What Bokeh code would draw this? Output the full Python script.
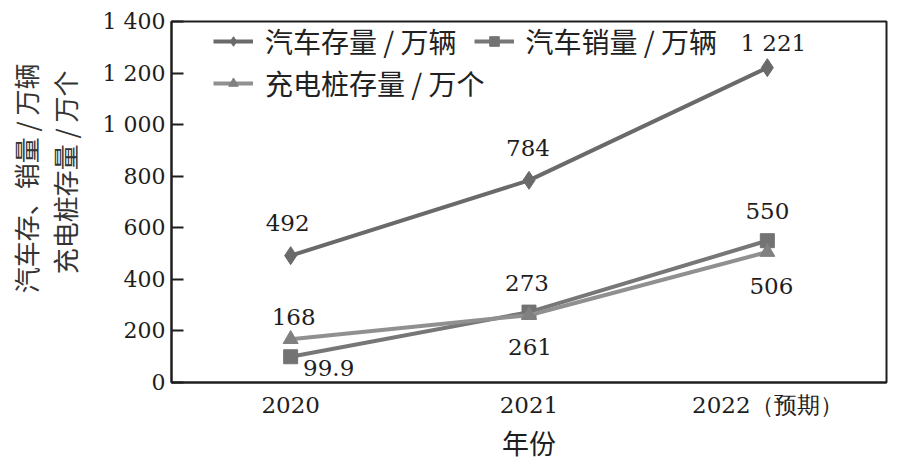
from bokeh.plotting import figure
from bokeh.models import (ColumnDataSource, Range1d, FixedTicker, Legend, LegendItem, Title)
from bokeh.core.properties import value
from bokeh.embed import file_html
from bokeh.resources import INLINE

# ---- data ----
years = ["2020", "2021", "2022（预期）"]
car_stock = [492, 784, 1221]        # 汽车存量 / 万辆
car_sales = [99.9, 273, 550]        # 汽车销量 / 万辆
pile_stock = [168, 261, 506]        # 充电桩存量 / 万个
y_ticks = [0, 200, 400, 600, 800, 1000, 1200, 1400]
y_title = ["汽车存、销量 / 万辆", "充电桩存量 / 万个"]

SERIF = "DejaVu Serif"
CJK = "Noto Sans CJK SC"
INK = "#1e1e1e"


def fmt(v):
    if float(v).is_integer():
        return "{:,}".format(int(v)).replace(",", " ")
    return "{:g}".format(v)


xs = list(range(len(years)))

p = figure(width=906, height=467, output_backend="svg", toolbar_location=None,
           x_range=Range1d(-0.5, 2.5), y_range=Range1d(0, 1400),
           min_border_left=171, min_border_right=20, min_border_top=21, min_border_bottom=85)

p.background_fill_color = "white"
p.border_fill_color = "white"
p.xgrid.visible = False
p.ygrid.visible = False
p.outline_line_color = INK
p.outline_line_width = 2

# axes
p.yaxis.ticker = FixedTicker(ticks=y_ticks)
p.yaxis.major_label_overrides = {t: fmt(t) for t in y_ticks}
p.yaxis.major_tick_in = 12
p.yaxis.major_tick_out = 0
p.yaxis.minor_tick_line_color = None
p.yaxis.major_label_standoff = 6
p.yaxis.major_label_text_font = SERIF
p.yaxis.major_label_text_font_size = "22px"
p.yaxis.major_label_text_color = INK
# blank axis label keeps a small gap between tick labels and the titles
p.yaxis.axis_label = " "
p.yaxis.axis_label_text_font_size = "8px"
p.yaxis.axis_label_standoff = 5

p.xaxis.ticker = FixedTicker(ticks=xs)
p.xaxis.major_label_overrides = {i: y for i, y in enumerate(years)}
p.xaxis.major_tick_in = 0
p.xaxis.major_tick_out = 0
p.xaxis.minor_tick_line_color = None
p.xaxis.major_label_standoff = 9
p.xaxis.major_label_text_font = SERIF
p.xaxis.major_label_text_font_size = "23px"
p.xaxis.major_label_text_color = INK
p.xaxis.axis_label = "年份"
p.xaxis.axis_label_text_font = CJK
p.xaxis.axis_label_text_font_size = "27px"
p.xaxis.axis_label_text_font_style = "normal"
p.xaxis.axis_label_text_color = INK
p.xaxis.axis_label_standoff = 2

for ax in (p.xaxis, p.yaxis):
    ax.axis_line_color = INK
    ax.axis_line_width = 2
    ax.major_tick_line_color = INK
    ax.major_tick_line_width = 2

# two-line vertical axis title stacked left of the y axis (inner line first)
for txt, off in ((y_title[1], 49), (y_title[0], 42)):
    p.add_layout(Title(text=txt, align="right", offset=off, standoff=0,
                       text_font=CJK, text_font_size="26px",
                       text_font_style="normal", text_color="#333333"), "left")

# ---- series ----
series = [
    ("汽车存量 / 万辆", car_stock, "#6a6a6a", "#6a6a6a", "diamond", 18),
    ("汽车销量 / 万辆", car_sales, "#777777", "#737373", "square", 14),
    ("充电桩存量 / 万个", pile_stock, "#909090", "#808080", "triangle", 15),
]

renderers = []
for name, vals, lc, mc, marker, size in series:
    src = ColumnDataSource(dict(x=xs, y=vals))
    lr = p.line("x", "y", source=src, line_color=lc, line_width=4)
    sr = p.scatter("x", "y", source=src, marker=marker, size=size,
                   fill_color=mc, line_color=mc)
    renderers.append((name, lr, sr))

# ---- value labels ----
label_offsets = {
    "stock": [(-3, -33), (-1, -32), (6, -25)],
    "sales": [(38, 11), (-2, -29), (0, -30)],
    "pile": [(3, -22), (1, 32), (4, 34)],
}
lab_x, lab_y, lab_t, dx, dy = [], [], [], [], []
for key, vals in (("stock", car_stock), ("sales", car_sales), ("pile", pile_stock)):
    for i, v in enumerate(vals):
        lab_x.append(xs[i])
        lab_y.append(v)
        lab_t.append(fmt(v))
        dx.append(label_offsets[key][i][0])
        dy.append(label_offsets[key][i][1])

lab_src = ColumnDataSource(dict(x=lab_x, y=lab_y, t=lab_t, dx=dx, dy=dy))
p.text("x", "y", text="t", source=lab_src, x_offset="dx", y_offset="dy",
       text_align="center", text_baseline="middle",
       text_font=value(SERIF), text_font_size="23px", text_color=INK)

# ---- legends ----
def make_legend(items, loc):
    return Legend(items=items, location=loc, orientation="horizontal",
                  glyph_width=40, glyph_height=24, label_standoff=12, spacing=17,
                  padding=0, margin=0, border_line_color=None,
                  background_fill_alpha=0,
                  label_text_font=CJK, label_text_font_size="28px",
                  label_text_color="#222222", label_height=38)

items1 = [LegendItem(label=n, renderers=[l, s]) for n, l, s in renderers[:2]]
items2 = [LegendItem(label=n, renderers=[l, s]) for n, l, s in renderers[2:]]
p.add_layout(make_legend(items1, (42, 321)), "center")
p.add_layout(make_legend(items2, (42, 279)), "center")

open("out.html", "w").write(file_html(p, INLINE))
